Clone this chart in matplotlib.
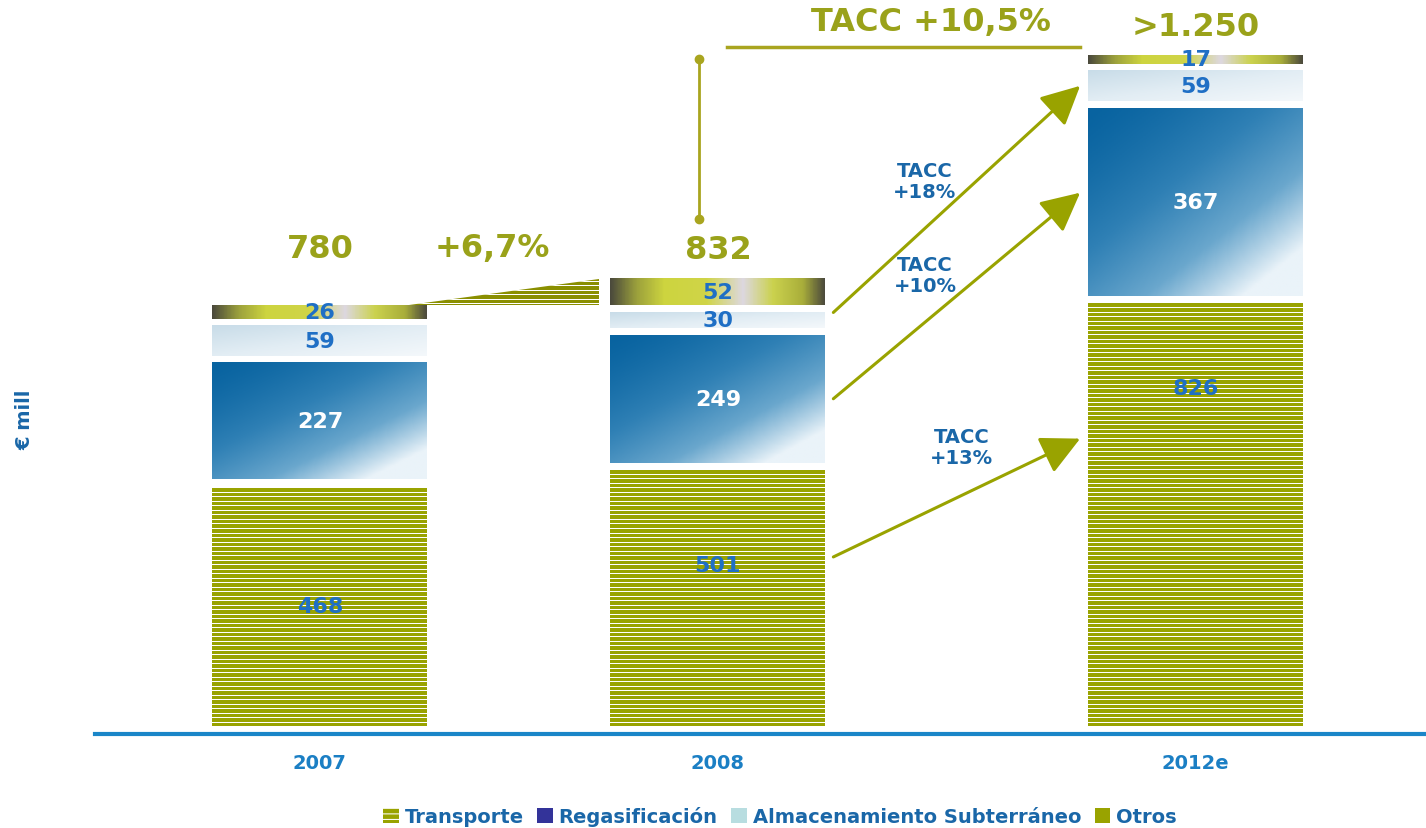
import numpy as np
import matplotlib
matplotlib.use('Agg')
import matplotlib.pyplot as plt
from matplotlib.colors import LinearSegmentedColormap
from matplotlib.patches import Patch, Polygon

# data (EUR mill)
years = ['2007', '2008', '2012e']
totals = ['780', '832', '>1.250']
transporte = [468, 501, 826]
regasificacion = [227, 249, 367]
almacenamiento = [59, 30, 59]
otros = [26, 52, 17]
tacc_labels = ['TACC\n+13%', 'TACC\n+10%', 'TACC\n+18%']
growth_0708 = '+6,7%'
growth_total = 'TACC +10,5%'
legend_labels = ['Transporte', 'Regasificación', 'Almacenamiento Subterráneo', 'Otros']

OLIVE = '#99a300'
OLIVE_TXT = '#9aa21a'
BLUE_NUM = '#1f6fc5'
BLUE_TXT = '#1a67a8'
BLUE_AXIS = '#1a86c8'

plt.rcParams['hatch.color'] = 'white'
plt.rcParams['hatch.linewidth'] = 0.75

xpos = np.array([0, 1, 2.2])
width = 0.54
gap = 14
stripe_step = 8.8  # about 4.5 px between white stripes

fig = plt.figure(figsize=(14.26, 8.29), dpi=100)
ax = fig.add_axes([95 / 1426, 94 / 829, 1331 / 1426, 735 / 829])

cm_regas = LinearSegmentedColormap.from_list('regas', ['#0863a0', '#2f80b5', '#6aa7cd', '#eaf3f9'])
cm_alm = LinearSegmentedColormap.from_list('alm', ['#c8dce8', '#e2edf4', '#f4f8fb'])
cm_otros = LinearSegmentedColormap.from_list('otros', [
    (0.0, '#4b4a3c'), (0.12, '#9ba03c'), (0.25, '#cdd43f'), (0.45, '#d0d548'),
    (0.62, '#ddd8e0'), (0.76, '#cbd24e'), (0.9, '#a9ae3a'), (1.0, '#4d4b3d')])


def fill_gradient(bar, cmap, kind):
    x0, y0 = bar.get_x(), bar.get_y()
    w, h = bar.get_width(), bar.get_height()
    xx, yy = np.meshgrid(np.linspace(0, 1, 200), np.linspace(0, 1, 100))
    if kind == 'diag':
        z = np.clip(0.55 * xx + 0.6 * yy, 0, 1) ** 1.4
    elif kind == 'soft':
        z = 0.5 * xx + 0.5 * yy
    else:
        z = xx
    ax.imshow(z, extent=[x0, x0 + w, y0, y0 + h], origin='upper', cmap=cmap,
              aspect='auto', zorder=2, vmin=0, vmax=1)


def stripes(x0, x1, y0, y1, clip=None):
    ys = np.arange(y0 + stripe_step, y1, stripe_step)
    lc = ax.hlines(ys, x0, x1, colors='white', lw=0.5, antialiased=False, zorder=3)
    if clip is not None:
        lc.set_clip_path(clip)


b0 = np.zeros(3)
b1 = b0 + np.array(transporte) + gap
b2 = b1 + np.array(regasificacion) + gap
b3 = b2 + np.array(almacenamiento) + gap
tops = b3 + np.array(otros)

bars_t = ax.bar(xpos, transporte, width, bottom=b0, color=OLIVE, linewidth=0, zorder=2)
bars_r = ax.bar(xpos, regasificacion, width, bottom=b1, color='none', linewidth=0)
bars_a = ax.bar(xpos, almacenamiento, width, bottom=b2, color='none', linewidth=0)
bars_o = ax.bar(xpos, otros, width, bottom=b3, color='none', linewidth=0)

for i in range(3):
    bt = bars_t[i]
    stripes(bt.get_x(), bt.get_x() + bt.get_width(), bt.get_y(), bt.get_y() + bt.get_height())
    fill_gradient(bars_r[i], cm_regas, 'diag')
    fill_gradient(bars_a[i], cm_alm, 'soft')
    fill_gradient(bars_o[i], cm_otros, 'horiz')

# segment labels
lab_font = dict(fontsize=16, fontweight='bold', ha='center', va='center', zorder=5)
transporte_label_pos = [0.5, 0.63, 0.8]
for i in range(3):
    ax.text(xpos[i], b0[i] + transporte[i] * transporte_label_pos[i], str(transporte[i]),
            color=BLUE_NUM, **lab_font)
    ax.text(xpos[i], b1[i] + regasificacion[i] / 2, str(regasificacion[i]), color='white', **lab_font)
    ax.text(xpos[i], b2[i] + almacenamiento[i] / 2, str(almacenamiento[i]), color=BLUE_NUM, **lab_font)
    ax.text(xpos[i], b3[i] + otros[i] / 2, str(otros[i]), color=BLUE_NUM, **lab_font)

# totals
total_pad = [30, 10, 9]
for i in range(3):
    ax.annotate(totals[i], (xpos[i], tops[i]), xytext=(0, total_pad[i]),
                textcoords='offset points', ha='center', va='bottom',
                fontsize=23, fontweight='bold', color=OLIVE_TXT)

# +6,7% wedge between 2007 and 2008
wx0 = xpos[0] + width / 2 - 0.045
wx1 = xpos[1] - width / 2 - 0.03
wedge = Polygon([(wx0, tops[0]), (wx1, tops[0]), (wx1, tops[1])], closed=True,
                facecolor='#8a8f00', linewidth=0, zorder=2)
ax.add_patch(wedge)
stripes(wx0, wx1, tops[0] - stripe_step / 2, tops[1], clip=wedge)
ax.text((wx0 + wx1) / 2 - 0.03, tops[1] + 60, growth_0708, ha='center', va='center',
        fontsize=23, fontweight='bold', color=OLIVE_TXT)

# TACC +10,5% bracket
ax.plot([0.952, 0.952], [990, 1303], color='#a9a51f', lw=2, marker='o', ms=6, zorder=3)
ax.plot([1.023, 1.91], [1326, 1326], color='#a9a51f', lw=2.5, zorder=3)
ax.text(1.535, 1377, growth_total, ha='center', va='center', fontsize=23,
        fontweight='bold', color=OLIVE_TXT)

# growth arrows 2008 -> 2012e
x_start = xpos[1] + width / 2 + 0.02
x_end = xpos[2] - width / 2 - 0.02
starts = [b0[1] + transporte[1] * 0.66, b1[1] + regasificacion[1] / 2, b2[1] + almacenamiento[1]]
ends = [b0[2] + transporte[2] * 0.68, b1[2] + regasificacion[2] * 0.55, b2[2] + almacenamiento[2] / 2]
label_xy = [(1.613, 545), (1.52, 881), (1.52, 1065)]
for s, e, lab, (lx, ly) in zip(starts, ends, tacc_labels, label_xy):
    ax.annotate('', xy=(x_end, e), xytext=(x_start, s),
                arrowprops=dict(arrowstyle='-|>,head_length=1.2,head_width=0.6',
                                color=OLIVE, lw=2.2, mutation_scale=20, shrinkA=0, shrinkB=0),
                zorder=4)
    ax.text(lx, ly, lab, ha='center', va='center', fontsize=14, fontweight='bold',
            color=BLUE_TXT, linespacing=1.15)

ax.set_xlim(-0.565, 2.779)
ax.set_ylim(-15, 1420)
ax.set_xticks(xpos, years)
ax.tick_params(axis='x', length=0, pad=14, labelsize=14, labelcolor='#1b7fc4')
for t in ax.get_xticklabels():
    t.set_fontweight('bold')
ax.set_yticks([])
for side in ['top', 'left', 'right']:
    ax.spines[side].set_visible(False)
ax.spines['bottom'].set_color(BLUE_AXIS)
ax.spines['bottom'].set_linewidth(3)

fig.text(25 / 1426, 1 - 420 / 829, '€ mill', rotation=90, ha='center', va='center',
         fontsize=14, fontweight='bold', color=BLUE_TXT)

handles = [Patch(facecolor=OLIVE, hatch='---', edgecolor='white', linewidth=0),
           Patch(facecolor='#333399'),
           Patch(facecolor='#b8dde0'),
           Patch(facecolor=OLIVE)]
leg = fig.legend(handles, legend_labels, loc='center', bbox_to_anchor=(780 / 1426, 1 - 817 / 829),
                 ncol=4, frameon=False, handlelength=0.8, handleheight=0.8,
                 columnspacing=0.7, handletextpad=0.3,
                 prop=dict(size=14, weight='bold'))
for t in leg.get_texts():
    t.set_color(BLUE_TXT)

fig.savefig('out.png', dpi=100)
